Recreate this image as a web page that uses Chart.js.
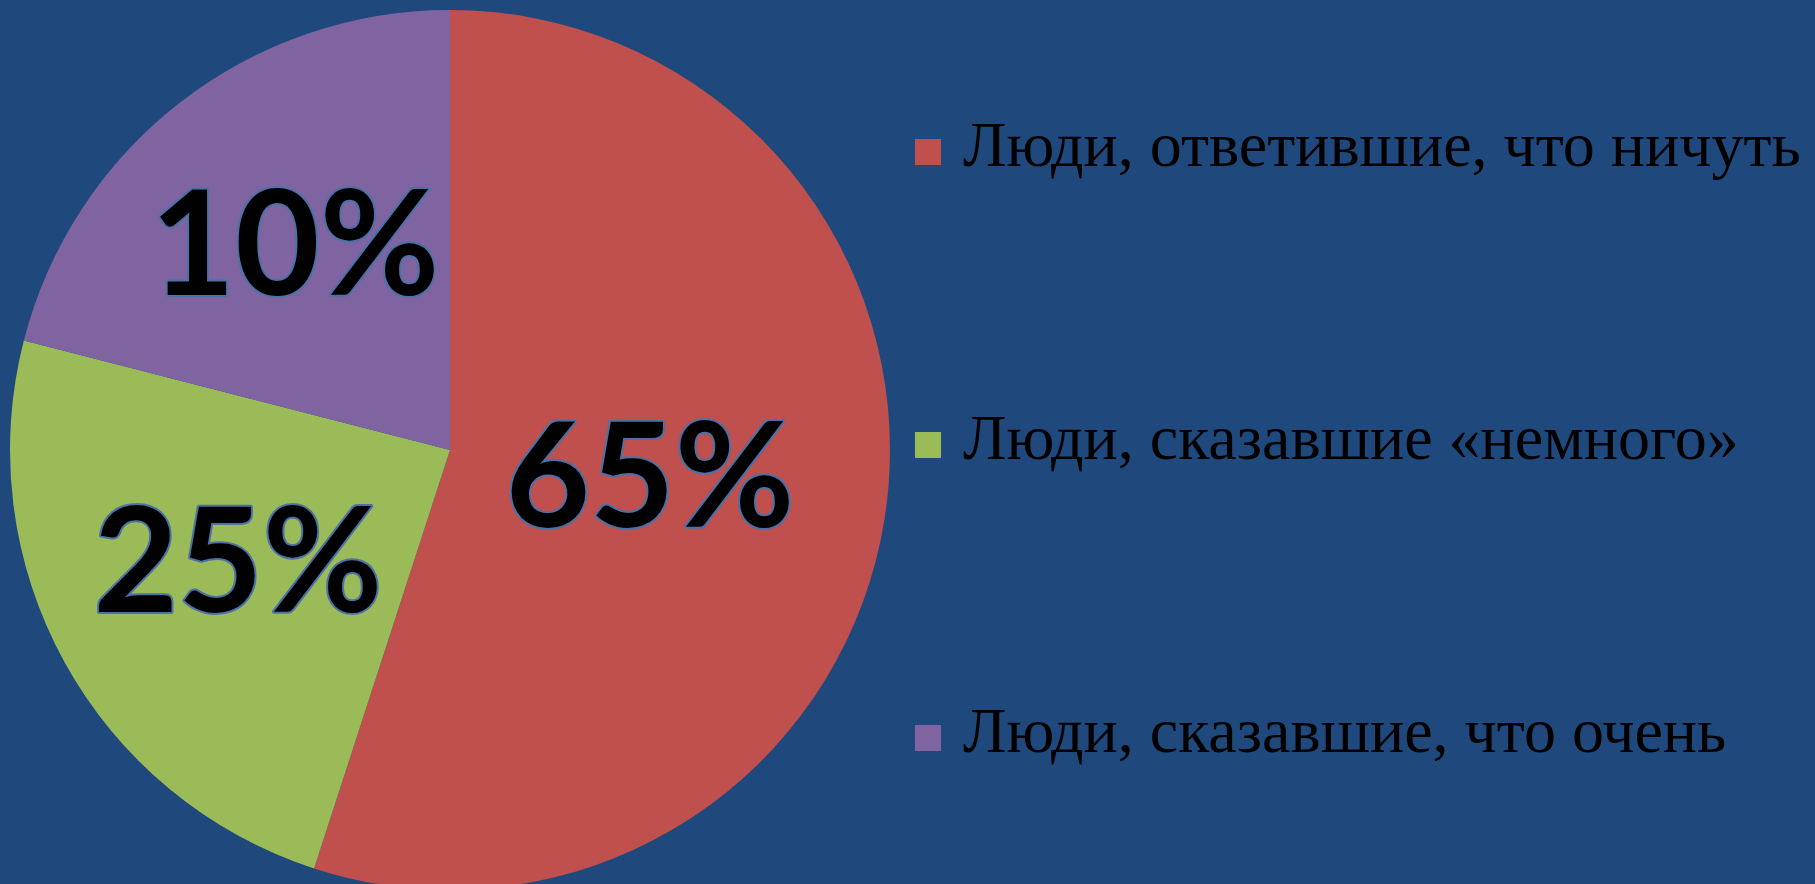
<!DOCTYPE html>
<html>
<head>
<meta charset="utf-8">
<script src="https://cdn.jsdelivr.net/npm/chart.js@4"></script>
<style>
    html, body { margin: 0; padding: 0; background: #1F497D; overflow: hidden; }
    #wrap { position: relative; width: 1815px; height: 900px; }
</style>
</head>
<body>
<div id="wrap"><canvas id="pieChart"></canvas></div>
<script>
// данные
const categories = [
    "Люди, ответившие, что ничуть",
    "Люди, сказавшие «немного»",
    "Люди, сказавшие, что очень",
];
const values = [55, 24, 21]; // доли секторов, как на картинке
const valueLabels = ["65%", "25%", "10%"]; // подписи на секторах
const colors = ["#C0504D", "#9BBB59", "#8064A2"];

document.addEventListener("DOMContentLoaded", function () {
    const ctx = document.getElementById("pieChart").getContext("2d");

    // подписи процентов внутри секторов
    const sliceLabels = {
        id: "sliceLabels",
        afterDatasetsDraw(chart, args, opts) {
            const c = chart.ctx;
            const arcs = chart.getDatasetMeta(0).data;
            c.save();
            c.font = "bold " + opts.size + "px Lato";
            c.textAlign = "center";
            c.textBaseline = "alphabetic";
            c.lineJoin = "round";
            arcs.forEach((arc, i) => {
                const mid = (arc.startAngle + arc.endAngle) / 2;
                const r = arc.outerRadius * opts.radius[i];
                const x = arc.x + Math.cos(mid) * r;
                const y = arc.y + Math.sin(mid) * r + opts.size * 0.31;
                c.lineWidth = 4;
                c.strokeStyle = "#4A72A8";
                c.strokeText(valueLabels[i], x, y);
                c.fillStyle = "#000";
                c.fillText(valueLabels[i], x, y);
            });
            c.restore();
        },
    };

    // легенда справа
    const sideLegend = {
        id: "sideLegend",
        afterDraw(chart, args, opts) {
            const c = chart.ctx;
            c.save();
            c.font = opts.size + "px 'Liberation Serif'";
            c.textBaseline = "alphabetic";
            categories.forEach((name, i) => {
                const cy = opts.top + i * opts.step;
                c.fillStyle = colors[i];
                c.fillRect(opts.x, cy - opts.box / 2, opts.box, opts.box);
                c.fillStyle = "#000";
                c.fillText(name, opts.x + opts.box + 22, cy + 14);
            });
            c.restore();
        },
    };

    new Chart(ctx, {
        type: "pie",
        data: {
            labels: categories,
            datasets: [
                {
                    data: values,
                    backgroundColor: colors,
                    borderWidth: 0,
                },
            ],
        },
        options: {
            responsive: true,
            maintainAspectRatio: false,
            animation: false,
            layout: {
                padding: { left: 10, top: 10, bottom: 10, right: 925 },
            },
            plugins: {
                legend: { display: false },
                tooltip: { enabled: false },
                sliceLabels: { size: 146, radius: [0.46, 0.55, 0.575] },
                sideLegend: { x: 915, top: 152, step: 293, box: 26, size: 64 },
            },
        },
        plugins: [sliceLabels, sideLegend],
    });
});
</script>
</body>
</html>
